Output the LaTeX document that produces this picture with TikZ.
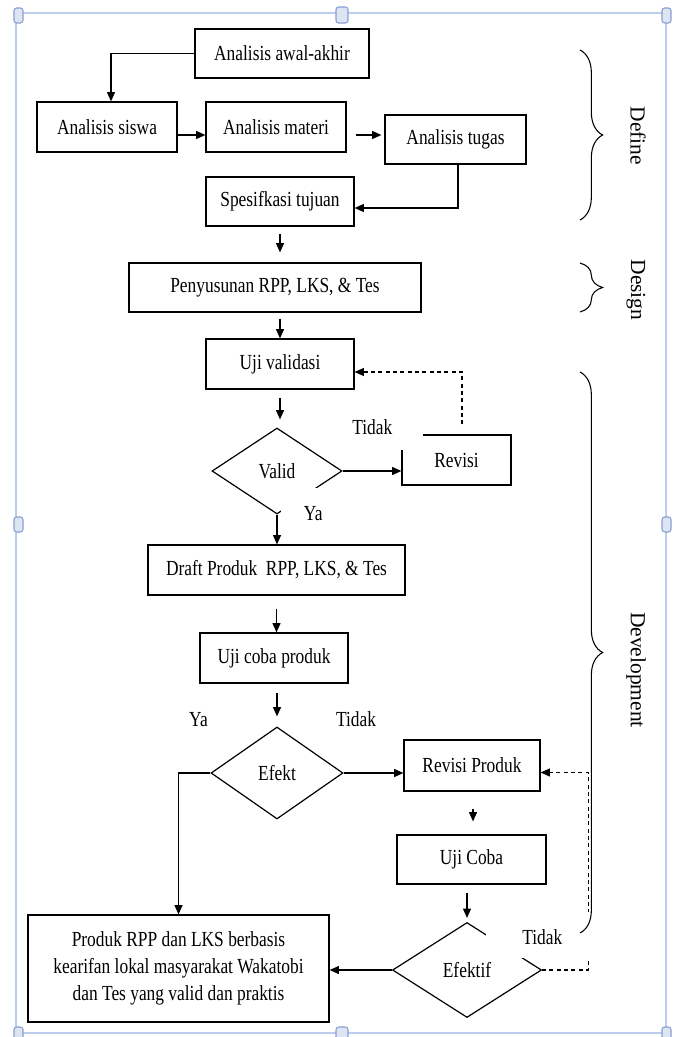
\documentclass[tikz,border=0pt]{standalone}
\usepackage{fontspec}
\setmainfont{Liberation Serif}
\newfontfamily\cond{Liberation Serif}[FakeStretch=0.81]
\usetikzlibrary{arrows.meta,shapes.geometric,decorations.pathreplacing,calc}
\definecolor{framecol}{RGB}{188,206,238}
\definecolor{handfill}{RGB}{222,229,242}
\definecolor{handdraw}{RGB}{135,160,208}
\begin{document}
\begin{tikzpicture}[x=0.75pt,y=-0.75pt,
  txt/.style={font=\cond\fontsize{16.1pt}{20pt}\selectfont},
  box/.style={txt, draw, line width=0.9pt, inner sep=0pt, align=center},
  dia/.style={txt, draw, diamond, line width=0.9pt, inner sep=0pt},
  arr/.style={line width=0.9pt, -{Triangle[length=7pt,width=6pt]}},
  dasharr/.style={arr, dash pattern=on 3pt off 2.5pt},
  lbl/.style={txt, inner sep=0pt},
  side/.style={font=\fontsize{16.1pt}{20pt}\selectfont, rotate=-90, inner sep=0pt},
  brc/.style={decorate, decoration={brace, amplitude=17pt}, line width=0.8pt},
  handle/.style={draw=handdraw, fill=handfill, rounded corners=2pt, line width=0.8pt}]
\useasboundingbox (0,0) rectangle (675,1037);
\fill[white] (0,0) rectangle (675,1037);
% frame
\draw[framecol, line width=1.2pt] (16,13) rectangle (666,1033);
\foreach \x/\y in {14/8, 14/517, 14/1027, 662/8, 662/517, 662/1027}
  \draw[handle] (\x,\y) rectangle ++(9,15);
\foreach \y in {7,1027}
  \draw[handle] (336,\y) rectangle ++(12,16);

% nodes
\node[box, minimum width=130.5pt, minimum height=36.75pt] (awal) at (282,53.5) {Analisis awal-akhir};
\node[box, minimum width=105pt, minimum height=37.5pt] (siswa) at (107,127) {Analisis siswa};
\node[box, minimum width=105pt, minimum height=37.5pt] (materi) at (276,127) {Analisis materi};
\node[box, minimum width=105.75pt, minimum height=36.75pt] (tugas) at (455.5,139.5) {Analisis tugas};
\node[box, minimum width=111pt, minimum height=36.75pt] (spes) at (280,201.5) {Spesifkasi tujuan};
\node[box, minimum width=219pt, minimum height=36.75pt] (pen) at (275,287.5) {Penyusunan RPP, LKS, \& Tes};
\node[box, minimum width=111pt, minimum height=37.5pt] (ujival) at (280,364) {Uji validasi};
\node[dia, minimum width=97.5pt, minimum height=64.5pt] (valid) at (277,471) {Valid};
\node[box, minimum width=81.75pt, minimum height=37.5pt] (revisi) at (456.5,460) {Revisi};
\node[box, minimum width=192.75pt, minimum height=37.5pt] (draft) at (276.5,570) {Draft Produk\ \ RPP, LKS, \& Tes};
\node[box, minimum width=111pt, minimum height=37.5pt] (ucp) at (274,658) {Uji coba produk};
\node[dia, minimum width=99pt, minimum height=69pt] (efekt) at (277,773) {Efekt};
\node[box, minimum width=102pt, minimum height=38.25pt] (revprod) at (472,765.5) {Revisi Produk};
\node[box, minimum width=111.75pt, minimum height=36.75pt] (uc) at (471.5,859.5) {Uji Coba};
\node[dia, minimum width=111.75pt, minimum height=71.25pt] (efektif) at (467,970) {Efektif};
\node[box, minimum width=225.75pt, minimum height=80.25pt] (produk) at (178.5,968.5) {Produk RPP dan LKS berbasis\\kearifan lokal masyarakat Wakatobi\\dan Tes yang valid dan praktis};

% connectors
\draw[arr] (awal.west) -| ($(siswa.north)+(4,0)$);
\draw[arr] ($(siswa.east)+(0,8)$) -- ($(materi.west)+(0,8)$);
\draw[arr] ($(materi.east)+(9,8)$) -- ($(tugas.west)+(-3,-4.5)$);
\draw[arr] ($(tugas.south)+(2.5,0)$) |- ($(spes.east)+(0,6.5)$);
\draw[arr] ($(spes.south)+(0,7)$) -- ($(spes.south |- pen.north)+(0,-10)$);
\draw[arr] ($(ujival.north |- pen.south)+(0,6)$) -- (ujival.north);
\draw[arr] ($(ujival.south)+(0,8)$) -- ($(ujival.south |- valid.north)+(0,-8)$);
\draw[arr] (valid.east) -- (valid.east -| revisi.west);
\draw[dasharr] ($(revisi.north)+(5.5,-10)$) |- ($(ujival.east)+(0,8)$);
\draw[arr] (valid.south) -- (valid.south |- draft.north);
\draw[arr] ($(draft.south)+(0,13)$) -- (draft.south |- ucp.north);
\draw[arr] ($(efekt.north |- ucp.south)+(0,9)$) -- ($(efekt.north)+(0,-10)$);
\draw[arr] (efekt.west) -| (produk.north);
\draw[arr] (efekt.east) -- (efekt.east -| revprod.west);
\draw[arr] ($(revprod.south)+(1,17)$) -- ($(revprod.south |- uc.north)+(1,-13)$);
\draw[arr] ($(efektif.north |- uc.south)+(0,8)$) -- ($(efektif.north)+(0,-4)$);
\draw[arr] (efektif.west) -- (efektif.west -| produk.east);
\draw[dasharr] (efektif.east) -- ++(46,0) |- ($(revprod.east)+(0,7)$);

% labels
\node[lbl, fill=white, anchor=north west, text width=58.5pt, text height=21pt, text depth=12pt, align=left] (tv) at (345,406) {\hspace*{5.25pt}Tidak};
\node[lbl, fill=white, anchor=north west, text width=40.5pt, text height=24pt, text depth=3.75pt, align=left] (yv) at (281,488) {\hspace*{17pt}Ya};
\node[lbl] (ye) at (198.5,720) {Ya};
\node[lbl] (te) at (356,719) {Tidak};
\node[lbl, fill=white, anchor=north west, text width=85.5pt, text height=24pt, text depth=10pt, align=left] (tf) at (486,912) {\hspace*{27pt}Tidak};

% braces and phase names
\draw[brc] (580,50) -- (580,220);
\draw[brc] (580,263) -- (580,312);
\draw[brc] (580,372) -- (580,933);
\node[side] (define) at (638,136) {Define};
\node[side] (design) at (636,290) {Design};
\node[side] (devel) at (636,670) {Development};
\end{tikzpicture}
\end{document}
